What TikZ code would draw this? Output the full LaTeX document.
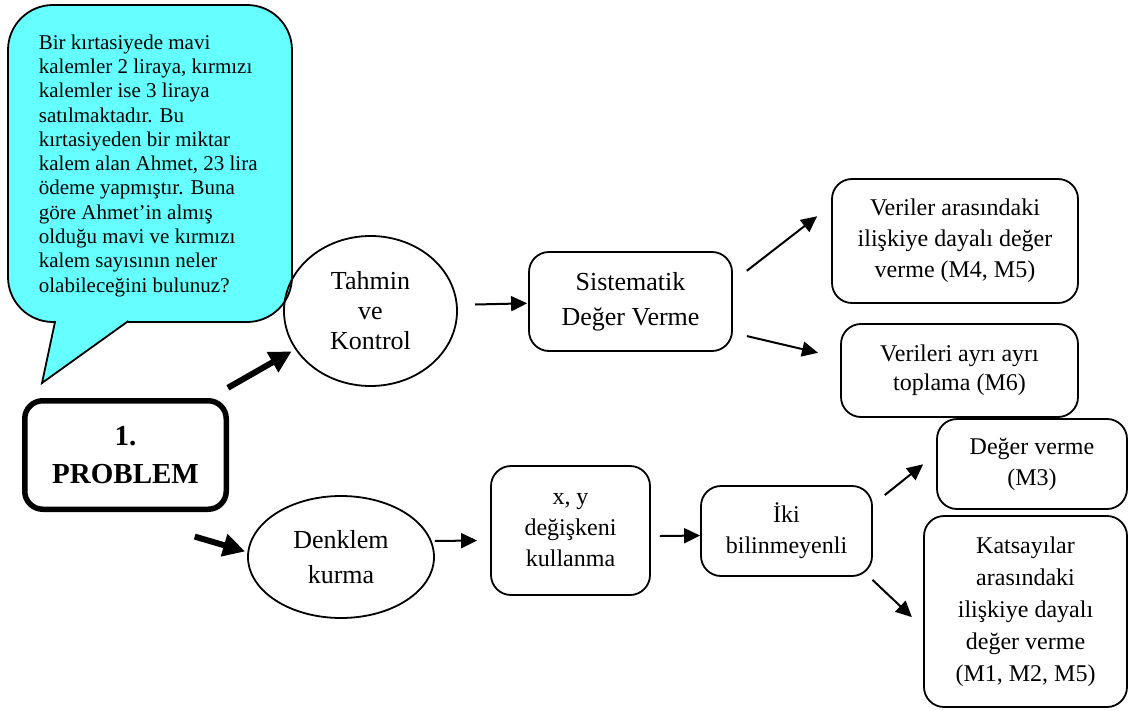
\documentclass[tikz,border=0pt]{standalone}
\usepackage{fontspec}
\setmainfont{Liberation Serif}
\usetikzlibrary{arrows.meta}
\usetikzlibrary{shapes}
\definecolor{bubble}{RGB}{102,255,255}

\begin{document}
\begin{tikzpicture}[x=1pt,y=-1pt,line width=1.8pt,
					every node/.style = {align=center, inner sep=0pt}]

\tikzstyle{round_box} = [rectangle, rounded corners=20pt, draw, font=\fontsize{24}{31}\selectfont]
\tikzstyle{oval_node} = [ellipse, draw, font=\fontsize{26}{30}\selectfont]
\tikzstyle{main_node} = [rectangle, rounded corners=18pt, draw, line width=5.5pt, font=\bfseries\fontsize{29}{38}\selectfont]
\tikzstyle{thin_arrow} = [-{Triangle[length=16pt,width=15pt]}, line width=2pt]
\tikzstyle{thick_arrow} = [-{Triangle[length=22pt,width=22pt]}, line width=6pt]

\useasboundingbox (0,0) rectangle (1129,711);

% speech bubble
\draw[fill=bubble, rounded corners=45pt] (8,5) rectangle (292,322);
\fill[bubble] (55.85,318) -- (42,383) -- (132.6,318) -- cycle;
\draw (55.2,321) -- (42,383) -- (128.4,321);
\node[anchor=north west, align=left, font=\fontsize{21}{24.3}\selectfont] (question) at (38,33.7)
	{Bir kırtasiyede mavi\\ kalemler 2 liraya, kırmızı\\ kalemler ise 3 liraya\\ satılmaktadır. Bu\\
	 kırtasiyeden bir miktar\\ kalem alan Ahmet, 23 lira\\ ödeme yapmıştır. Buna\\ göre Ahmet’in almış\\
	 olduğu mavi ve kırmızı\\ kalem sayısının neler\\ olabileceğini bulunuz?};

\node[main_node, minimum width=201.5pt, minimum height=108.5pt] (problem) at (125.5,455) {1.\\ PROBLEM};

% upper branch
\node[oval_node, minimum width=173pt, minimum height=150pt] (tahmin) at (370.5,311) {Tahmin\\ ve\\ Kontrol};
\node[round_box, minimum width=203pt, minimum height=99pt, font=\fontsize{26}{35}\selectfont] (sistematik) at (630.5,301.5) {Sistematik\\ Değer Verme};
\node[round_box, minimum width=246pt, minimum height=124pt] (iliski) at (955,241) {Veriler arasındaki\\ ilişkiye dayalı değer\\ verme (M4, M5)};
\node[round_box, minimum width=237pt, minimum height=93pt, font=\fontsize{24}{29}\selectfont] (ayri) at (959.5,370.5) {Verileri ayrı ayrı\\ toplama (M6)};

% lower branch
\node[oval_node, minimum width=186pt, minimum height=122pt, font=\fontsize{26}{35}\selectfont] (denklem) at (341,557) {Denklem\\ kurma};
\node[round_box, minimum width=159pt, minimum height=129pt] (degisken) at (570.5,530.5) {x, y\\ değişkeni\\ kullanma};
\node[round_box, minimum width=171pt, minimum height=90pt] (iki) at (786.5,531) {İki\\ bilinmeyenli};
\node[round_box, minimum width=190pt, minimum height=90pt] (deger) at (1032,464) {Değer verme\\ (M3)};
\node[round_box, minimum width=203pt, minimum height=191pt, font=\fontsize{24}{32}\selectfont] (katsayi) at (1025.5,611.5) {Katsayılar\\ arasındaki\\ ilişkiye dayalı\\ değer verme\\ (M1, M2, M5)};

\draw[thick_arrow, shorten <=20.6pt, shorten >=4pt] (problem.34.3) -- (tahmin.207.5);
\draw[thick_arrow, shorten <=87pt, shorten >=2.3pt] (problem.256.3) -- (denklem.177.4);
\draw[thin_arrow, shorten <=17.4pt, shorten >=1pt] (tahmin.4.6) -- (sistematik.181.4);
\draw[thin_arrow, shorten <=17.6pt, shorten >=17.6pt] (sistematik.11.6) -- (iliski.164.4);
\draw[thin_arrow, shorten <=14.4pt, shorten >=22.7pt] (sistematik.343.7) -- (ayri.174.3);
\draw[thin_arrow, shorten <=3.2pt, shorten >=13pt] (denklem.10) -- (degisken.187.4);
\draw[thin_arrow, shorten <=9pt] (degisken.356.1) -- (iki.183.3);
\draw[thin_arrow, shorten <=15.3pt, shorten >=16.6pt] (iki.17) -- (deger.174.5);
\draw[thin_arrow, shorten <=4.3pt, shorten >=15.4pt] (iki.331.1) -- (katsayi.189.5);
\end{tikzpicture}
\end{document}
